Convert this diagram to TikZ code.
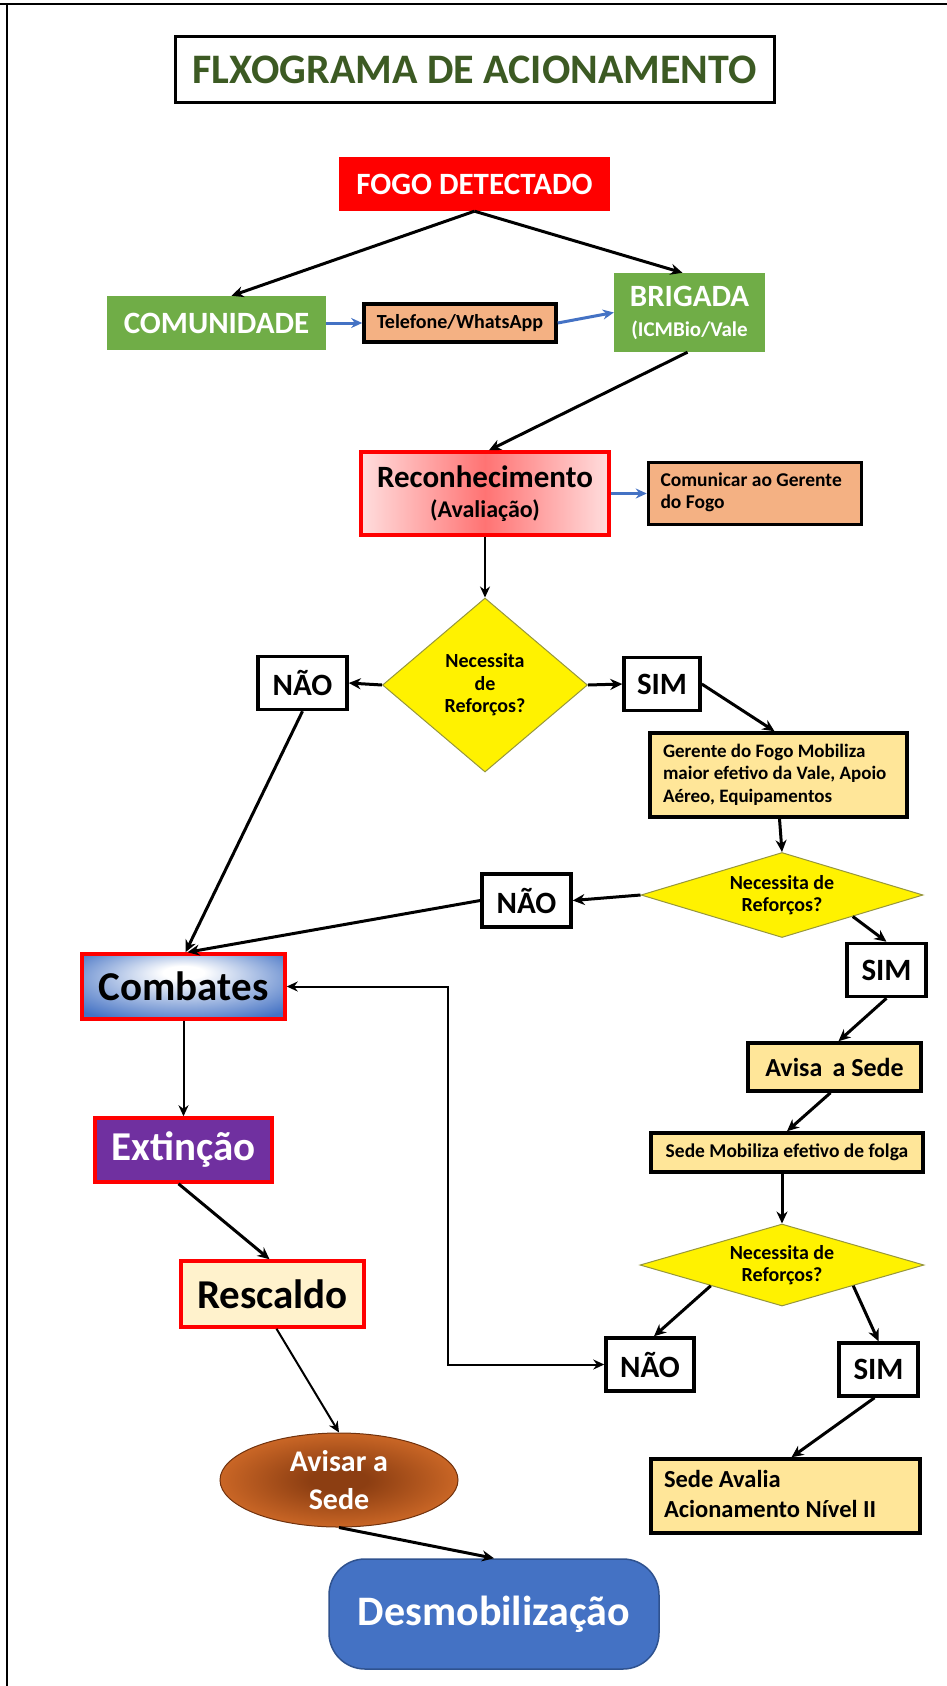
\documentclass[tikz,border=0pt]{standalone}
\usepackage{fontspec}
\setmainfont{Carlito}
\usepackage{tikz}
\usetikzlibrary{positioning, arrows.meta, shapes.geometric}

\definecolor{titlegreen} {RGB}{60,  90,  35}
\definecolor{fogored}    {RGB}{255, 0,   0}
\definecolor{boxgreen}   {RGB}{112, 173, 71}
\definecolor{peach}      {RGB}{244, 177, 131}
\definecolor{paleyellow} {RGB}{255, 230, 153}
\definecolor{cream}      {RGB}{255, 242, 204}
\definecolor{linkblue}   {RGB}{68,  114, 196}
\definecolor{combblue}   {RGB}{68,  114, 196}
\definecolor{extpurple}  {RGB}{112, 48,  160}
\definecolor{recred}     {RGB}{255, 115, 115}
\definecolor{recpink}    {RGB}{255, 222, 222}
\definecolor{avisarbrown}{RGB}{140, 62,  18}
\definecolor{avisarorange}{RGB}{237, 125, 49}
\definecolor{desmobline} {RGB}{47,  82,  143}
\definecolor{diamondline}{RGB}{150, 150, 60}

\pgfdeclareradialshading{combshade}{\pgfpoint{0bp}{12bp}}{%
  color(0bp)=(white); color(5bp)=(white);
  color(34bp)=(combblue); color(50bp)=(combblue)}
\pgfdeclareradialshading{avisarshade}{\pgfpoint{0bp}{0bp}}{%
  color(0bp)=(avisarbrown); color(6bp)=(avisarbrown);
  color(36bp)=(avisarorange); color(50bp)=(avisarorange)}

% lines set flush left, with the font's own spaces
\newcommand{\fxlines}[1]{\begin{tabular}{@{}l@{}}#1\end{tabular}}

\tikzset{
  fxbox/.style={
    rectangle, draw=black, line width=3.5pt, inner sep=0pt,
    align=center, text=black
  },
  fxplain/.style={
    rectangle, inner sep=0pt, align=center, text=white
  },
  fxred/.style={
    rectangle, draw=red, line width=3.5pt, inner sep=0pt, align=center
  },
  fxdecision/.style={
    diamond, draw=diamondline, line width=1pt, fill=yellow,
    inner sep=0pt, align=center,
    font=\fontsize{20}{22.5}\selectfont\bfseries
  },
  fxanswer/.style={
    fxbox, fill=white, minimum height=53pt,
    font=\fontsize{31}{37}\selectfont\bfseries
  },
  fxarrow/.style={
    -{Stealth[length=12pt, width=11pt]}, line width=3pt, black
  },
  fxthin/.style={
    -{Stealth[length=11pt, width=10pt]}, line width=2pt, black
  },
  fxblue/.style={
    -{Stealth[length=11pt, width=10pt]}, line width=3pt, color=linkblue
  },
}

\begin{document}
\begin{tikzpicture}[x=1pt, y=-1pt]
  \useasboundingbox (0,0) rectangle (947,1686);

  % Frame
  \draw[line width=2pt] (0,4) -- (947,4);
  \draw[line width=2.5pt] (7,4) -- (7,1686);

  % Title
  \node[fxbox, line width=3pt, minimum width=599pt, minimum height=65pt,
        text=titlegreen, font=\fontsize{42}{50}\selectfont\bfseries]
        (title) at (474.5,69.5) {FLXOGRAMA DE ACIONAMENTO};

  % Detection
  \node[fxplain, fill=fogored, minimum width=271pt, minimum height=54pt,
        font=\fontsize{31}{37}\selectfont\bfseries]
        (fogo) at (474.5,184) {FOGO DETECTADO};
  \node[fxplain, fill=boxgreen, minimum width=219pt, minimum height=54pt,
        font=\fontsize{31}{37}\selectfont\bfseries]
        (com) at (216.5,323) {COMUNIDADE};
  \node[fxbox, fill=peach, right=36pt of com, minimum width=192pt,
        minimum height=38pt, font=\fontsize{20}{24}\selectfont\bfseries]
        (tel) {Telefone/WhatsApp};
  \node[fxplain, fill=boxgreen, minimum width=151pt, minimum height=79pt,
        font=\fontsize{31}{30}\selectfont\bfseries]
        (brig) at (689.5,312.5)
        {BRIGADA\\{\fontsize{21}{30}\selectfont(ICMBio/Vale}};

  % Recognition
  \node[fxred, left color=recpink, right color=recpink, middle color=recred,
        minimum width=248pt, minimum height=83pt,
        font=\fontsize{31}{30}\selectfont\bfseries]
        (rec) at (485,493.5)
        {Reconhecimento\\{\fontsize{24}{30}\selectfont(Avaliação)}};
  \node[fxbox, fill=peach, right=36pt of rec, minimum width=213pt,
        minimum height=62pt, font=\fontsize{19.5}{22}\selectfont\bfseries]
        (gerfogo) {\makebox[189pt][l]{\fxlines{Comunicar ao Gerente\\do Fogo}}};

  % First decision
  \node[fxdecision, shape aspect=1.18, minimum width=205pt, minimum height=174pt]
        (dec1) at (485,685) {Necessita\\de\\Reforços?};
  \node[fxanswer, minimum width=89pt] (nao1) at (302.5,683) {NÃO};
  \node[fxanswer, minimum width=76pt] (sim1) at (662,684) {SIM};
  \node[fxbox, fill=paleyellow, minimum width=257pt, minimum height=84pt,
        font=\fontsize{19}{22.5}\selectfont\bfseries]
        (ger) at (778.5,775)
        {\makebox[231pt][l]{\fxlines{Gerente do Fogo Mobiliza\\
          maior efetivo da Vale, Apoio\\Aéreo, Equipamentos}}};

  % Second decision
  \node[fxdecision, shape aspect=3.3, minimum width=282pt, minimum height=85pt]
        (dec2) at (782,895) {Necessita de\\Reforços?};
  \node[fxanswer, minimum width=89pt] (nao2) at (526.5,900.5) {NÃO};
  \node[fxanswer, minimum width=79pt] (sim2) at (886.5,970) {SIM};
  \node[fxbox, fill=paleyellow, minimum width=173pt, minimum height=48pt,
        font=\fontsize{26}{30}\selectfont\bfseries]
        (avisa) at (834.5,1067) {Avisa\, a Sede};
  \node[fxbox, fill=paleyellow, minimum width=272pt, minimum height=39pt,
        font=\fontsize{19.5}{22}\selectfont\bfseries]
        (sedemob) at (787,1152.5) {Sede Mobiliza efetivo de folga};

  % Third decision
  \node[fxdecision, shape aspect=3.46, minimum width=284pt, minimum height=82pt]
        (dec3) at (782,1265) {Necessita de\\Reforços?};
  \node[fxanswer, minimum width=88pt] (nao3) at (650,1364.5) {NÃO};
  \node[fxanswer, minimum width=79pt] (sim3) at (878.5,1369.5) {SIM};
  \node[fxbox, fill=paleyellow, minimum width=269pt, minimum height=74pt,
        font=\fontsize{24.5}{30}\selectfont\bfseries]
        (aval) at (785.5,1496)
        {\makebox[243pt][l]{\fxlines{Sede Avalia\\Acionamento Nível II}}};

  % Fire fighting
  \node[fxred, shading=combshade, minimum width=203pt, minimum height=65pt,
        font=\fontsize{41}{48}\selectfont\bfseries]
        (comb) at (183.5,986.5) {Combates};
  \node[fxred, fill=extpurple, text=white, minimum width=177pt,
        minimum height=64pt, font=\fontsize{41}{48}\selectfont\bfseries]
        (ext) at (183.5,1150) {Extinção};
  \node[fxred, fill=cream, minimum width=183pt, minimum height=66pt,
        font=\fontsize{41}{48}\selectfont\bfseries]
        (resc) at (272.5,1294) {Rescaldo};
  \node[ellipse, shading=avisarshade, draw=avisarbrown!80!black,
        line width=1pt, minimum width=238pt, minimum height=94pt,
        inner sep=0pt, align=center, text=white,
        font=\fontsize{30}{38}\selectfont\bfseries]
        (avisar) at (339,1480) {Avisar a\\Sede};
  \node[fxplain, fill=linkblue, draw=desmobline, line width=1.5pt,
        rounded corners=36pt, minimum width=330pt, minimum height=110pt,
        font=\fontsize{42}{50}\selectfont\bfseries]
        (desmob) at (494,1614) {Desmobilização};

  % Connectors
  \draw[fxarrow] (fogo.south) -- ([xshift=15pt]com.north);
  \draw[fxarrow] (fogo.south) -- ([xshift=-7pt]brig.north);
  \draw[fxblue] (com.east) -- (tel.west);
  \draw[fxblue] (tel.east) -- (brig.west);
  \draw[fxarrow] ([xshift=-2pt]brig.south) -- ([xshift=4pt]rec.north);
  \draw[fxblue] (rec.east) -- (gerfogo.west);
  \draw[fxthin] (rec.south) -- (dec1.north);
  \draw[fxarrow] (dec1.west) -- (nao1.east);
  \draw[fxarrow] (dec1.east) -- (sim1.west);
  \draw[fxarrow] (sim1.east) -- ([xshift=-4pt]ger.north);
  \draw[fxarrow] ([xshift=1pt]ger.south) -- (dec2.north);
  \draw[fxarrow] (dec2.west) -- (nao2.east);
  \draw[fxarrow] (nao2.west) -- ([xshift=4pt]comb.north);
  \draw[fxarrow] (nao1.south) -- ([xshift=2pt]comb.north);
  \draw[fxarrow] (dec2.south east) -- (sim2.north);
  \draw[fxarrow] (sim2.south) -- ([xshift=4pt]avisa.north);
  \draw[fxarrow] ([xshift=-4pt]avisa.south) -- (sedemob.north);
  \draw[fxarrow] ([xshift=-5pt]sedemob.south) -- (dec3.north);
  \draw[fxarrow] (dec3.south west) -- ([xshift=4pt]nao3.north);
  \draw[fxarrow] (dec3.south east) -- (sim3.north);
  \draw[fxarrow] ([xshift=-4pt]sim3.south) -- ([xshift=6pt]aval.north);
  \draw[fxthin, {Stealth[length=11pt, width=10pt]}-{Stealth[length=11pt, width=10pt]}]
        (comb.east) -- ++(161,0) |- (nao3.west);
  \draw[fxthin] (comb.south) -- (ext.north);
  \draw[fxarrow] ([xshift=-5pt]ext.south) -- ([xshift=-3pt]resc.north);
  \draw[fxthin] ([xshift=4pt]resc.south) -- (avisar.north);
  \draw[fxarrow] (avisar.south) -- (desmob.north);
\end{tikzpicture}
\end{document}
